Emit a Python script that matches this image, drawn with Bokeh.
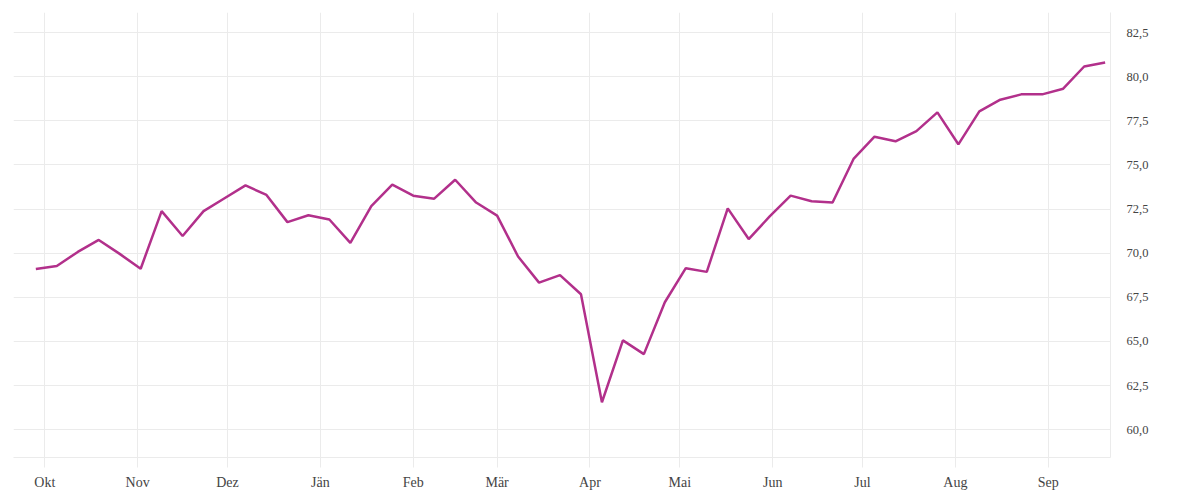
from datetime import datetime, timedelta
from bokeh.plotting import figure
from bokeh.models import FixedTicker, CustomJSTickFormatter, Range1d, LinearAxis, Grid
from bokeh.embed import file_html
from bokeh.resources import INLINE

# ---- data ----
start_date = datetime(2022, 9, 28)
values = [69.10, 69.27, 70.07, 70.75, 69.96, 69.12, 72.38, 70.97, 72.38, 73.11,
          73.84, 73.30, 71.76, 72.15, 71.91, 70.58, 72.66, 73.88, 73.26, 73.09,
          74.16, 72.87, 72.13, 69.81, 68.33, 68.76, 67.67, 61.55, 65.06, 64.28,
          67.22, 69.15, 68.94, 72.54, 70.80, 72.08, 73.26, 72.94, 72.87, 75.34,
          76.60, 76.34, 76.92, 77.98, 76.17, 78.04, 78.70, 79.00, 79.00, 79.32,
          80.58, 80.81]
dates = [start_date + timedelta(days=7 * i) for i in range(len(values))]

month_names = ["Jän", "Feb", "Mär", "Apr", "Mai", "Jun", "Jul", "Aug", "Sep", "Okt", "Nov", "Dez"]
month_ticks = [datetime(2022, 10, 1), datetime(2022, 11, 1), datetime(2022, 12, 1),
               datetime(2023, 1, 1), datetime(2023, 2, 1), datetime(2023, 3, 1),
               datetime(2023, 4, 1), datetime(2023, 5, 1), datetime(2023, 6, 1),
               datetime(2023, 7, 1), datetime(2023, 8, 1), datetime(2023, 9, 1)]
y_ticks = [60.0, 62.5, 65.0, 67.5, 70.0, 72.5, 75.0, 77.5, 80.0, 82.5]
y_tick_labels = ["60,0", "62,5", "65,0", "67,5", "70,0", "72,5", "75,0", "77,5", "80,0", "82,5"]

x_start = datetime(2022, 9, 20, 13, 0)
x_end = datetime(2023, 9, 21, 19, 0)
y_start, y_end = 58.42, 83.64

FONT = "Liberation Serif"
GRID = "#ebebeb"
LINE = "#b2308b"

def ms(d):
    return (d - datetime(1970, 1, 1)).total_seconds() * 1000.0

p = figure(width=1192, height=492, x_axis_type="datetime", y_axis_location=None,
           output_backend="svg", toolbar_location=None,
           x_range=Range1d(x_start, x_end), y_range=Range1d(y_start, y_end),
           min_border_left=13, min_border_right=82, min_border_top=12, min_border_bottom=34)
p.outline_line_color = None
p.background_fill_color = "white"
p.border_fill_color = "white"

p.line(dates, values, line_color=LINE, line_width=2.5)

# x axis
xa = p.xaxis[0]
xa.ticker = FixedTicker(ticks=[ms(d) for d in month_ticks])
xa.formatter = CustomJSTickFormatter(args=dict(names=month_names),
                                     code="return names[new Date(tick).getUTCMonth()];")
xa.axis_line_color = GRID
xa.major_tick_line_color = GRID
xa.major_tick_in = 0
xa.major_tick_out = 10
xa.minor_tick_line_color = None
xa.major_label_standoff = 7
xa.major_label_text_font = FONT
xa.major_label_text_font_size = "14px"
xa.major_label_text_color = "#444444"

# y axis on the right
ya = LinearAxis(ticker=FixedTicker(ticks=y_ticks),
                major_label_overrides={t: l for t, l in zip(y_ticks, y_tick_labels)})
ya.axis_line_color = GRID
ya.major_tick_line_color = None
ya.major_tick_in = 0
ya.major_tick_out = 0
ya.minor_tick_line_color = None
ya.major_label_standoff = 16
ya.major_label_text_font = FONT
ya.major_label_text_font_size = "12.5px"
ya.major_label_text_color = "#444444"
p.add_layout(ya, "right")

p.xgrid.ticker = FixedTicker(ticks=[ms(d) for d in month_ticks])
p.xgrid.grid_line_color = GRID
p.ygrid.grid_line_color = None
p.add_layout(Grid(dimension=1, ticker=FixedTicker(ticks=y_ticks), grid_line_color=GRID))

open("out.html", "w").write(file_html(p, INLINE))
